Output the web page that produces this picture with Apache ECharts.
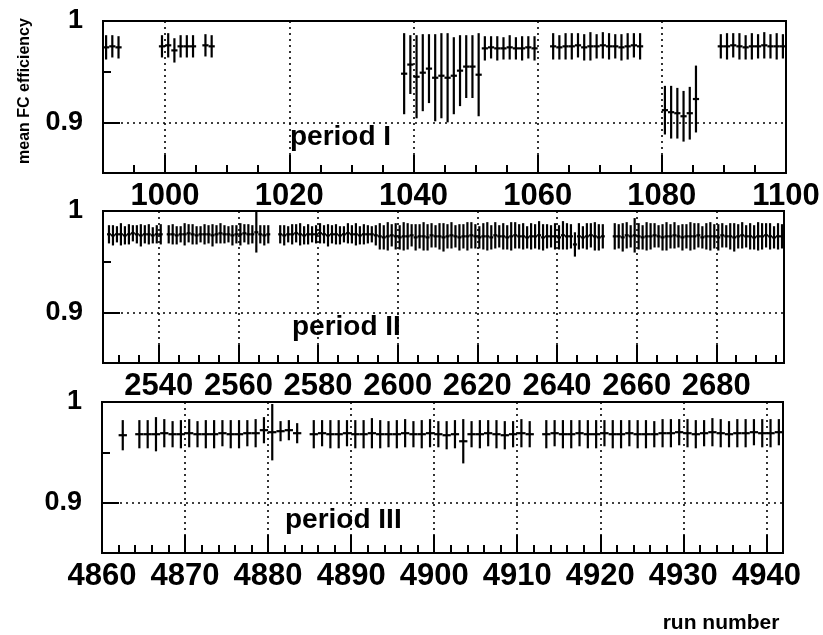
<!DOCTYPE html>
<html>
<head>
<meta charset="utf-8">
<script src="https://cdn.jsdelivr.net/npm/echarts@6/dist/echarts.min.js"></script>
<style>
  html, body { margin: 0; padding: 0; background: #fff; }
  #chart { width: 823px; height: 635px; }
</style>
</head>
<body>
<div id="chart"></div>
<script>
// Mean FC efficiency per run, three data-taking periods.
// Runs are listed as consecutive [first, last] spans; efficiencies and
// their errors follow the runs in order.

// ---- period I ----
const runSpansI = [[990, 992], [999, 1004], [1006, 1007], [1038, 1059], [1062, 1076], [1080, 1085], [1089, 1099]];
const effI = [
  0.974, 0.975, 0.974,
  0.975, 0.976, 0.971, 0.975, 0.975, 0.975,
  0.976, 0.975,
  0.948, 0.957, 0.945, 0.949, 0.953, 0.944, 0.946, 0.944, 0.946, 0.951, 0.955, 0.955, 0.947,
  0.973, 0.974, 0.973, 0.973, 0.974, 0.973, 0.973, 0.974, 0.973,
  0.975, 0.974, 0.975, 0.975, 0.976, 0.974, 0.975, 0.975, 0.976, 0.975, 0.975, 0.974, 0.975, 0.976, 0.975,
  0.912, 0.910, 0.909, 0.906, 0.909, 0.923,
  0.975, 0.975, 0.976, 0.975, 0.974, 0.975, 0.975, 0.976, 0.975, 0.975, 0.975
];
const errI = [
  0.012, 0.011, 0.011,
  0.011, 0.012, 0.012, 0.011, 0.011, 0.011,
  0.011, 0.011,
  0.040, 0.029, 0.041, 0.038, 0.034, 0.043, 0.042, 0.044, 0.038, 0.035, 0.031, 0.031, 0.041,
  0.012, 0.011, 0.012, 0.011, 0.012, 0.011, 0.012, 0.011, 0.012,
  0.013, 0.012, 0.013, 0.013, 0.012, 0.013, 0.014, 0.012, 0.013, 0.013, 0.012, 0.013, 0.013, 0.012, 0.013,
  0.024, 0.026, 0.025, 0.025, 0.026, 0.033,
  0.012, 0.013, 0.012, 0.013, 0.012, 0.013, 0.012, 0.013, 0.012, 0.013, 0.012
];

// ---- period II ----
const runSpansII = [[2527, 2540], [2542, 2567], [2570, 2651], [2654, 2696]];
const effII = [
  // 2527-2540
  0.977, 0.976, 0.977, 0.977, 0.976, 0.977, 0.978, 0.977, 0.976, 0.977, 0.977, 0.976, 0.977, 0.977,
  // 2542-2567
  0.977, 0.977, 0.976, 0.977, 0.977, 0.978, 0.977, 0.976, 0.977, 0.977, 0.977, 0.976, 0.977,
  0.978, 0.977, 0.977, 0.976, 0.977, 0.977, 0.978, 0.977, 0.977, 0.979, 0.977, 0.976, 0.977,
  // 2570-2594
  0.977, 0.976, 0.977, 0.977, 0.978, 0.977, 0.976, 0.977, 0.977, 0.977, 0.978, 0.977, 0.976,
  0.977, 0.977, 0.976, 0.977, 0.978, 0.977, 0.977, 0.976, 0.977, 0.977, 0.977, 0.976,
  // 2595-2651
  0.975, 0.974, 0.975, 0.976, 0.975, 0.974, 0.975, 0.975, 0.976, 0.974,
  0.975, 0.975, 0.974, 0.976, 0.975, 0.975, 0.974, 0.975, 0.976, 0.975,
  0.974, 0.975, 0.975, 0.976, 0.975, 0.974, 0.975, 0.975, 0.974, 0.976,
  0.975, 0.975, 0.974, 0.975, 0.976, 0.975, 0.975, 0.974, 0.975, 0.975,
  0.976, 0.974, 0.975, 0.975, 0.975, 0.974, 0.976, 0.975, 0.975, 0.967,
  0.975, 0.974, 0.975, 0.976, 0.975, 0.974, 0.975,
  // 2654-2696
  0.975, 0.975, 0.974, 0.976, 0.975, 0.976, 0.975, 0.974, 0.975, 0.975,
  0.976, 0.975, 0.974, 0.975, 0.975, 0.976, 0.975, 0.974, 0.975, 0.975,
  0.975, 0.976, 0.974, 0.975, 0.975, 0.975, 0.974, 0.976, 0.975, 0.975,
  0.974, 0.975, 0.976, 0.975, 0.975, 0.974, 0.975, 0.975, 0.976, 0.975,
  0.974, 0.975, 0.975
];
const errII = [
  0.009, 0.010, 0.008, 0.011, 0.009, 0.010, 0.008, 0.009, 0.011, 0.009, 0.010, 0.008, 0.009, 0.010,
  0.009, 0.010, 0.009, 0.008, 0.011, 0.009, 0.010, 0.009, 0.008, 0.010, 0.009, 0.011, 0.009,
  0.010, 0.009, 0.008, 0.010, 0.009, 0.011, 0.009, 0.010, 0.009, 0.020, 0.009, 0.010, 0.009,
  0.009, 0.010, 0.008, 0.010, 0.009, 0.011, 0.009, 0.010, 0.008, 0.009, 0.010, 0.009, 0.011,
  0.009, 0.010, 0.009, 0.008, 0.010, 0.009, 0.011, 0.009, 0.010, 0.009, 0.008, 0.010,
  0.013, 0.012, 0.014, 0.011, 0.013, 0.012, 0.014, 0.013, 0.011, 0.013,
  0.012, 0.014, 0.013, 0.012, 0.011, 0.013, 0.014, 0.012, 0.013, 0.011,
  0.013, 0.012, 0.014, 0.013, 0.012, 0.011, 0.013, 0.014, 0.012, 0.013,
  0.011, 0.013, 0.012, 0.014, 0.013, 0.012, 0.013, 0.011, 0.013, 0.012,
  0.014, 0.013, 0.012, 0.011, 0.013, 0.012, 0.014, 0.013, 0.012, 0.012,
  0.013, 0.011, 0.013, 0.012, 0.014, 0.013, 0.012,
  0.013, 0.012, 0.014, 0.013, 0.011, 0.017, 0.013, 0.012, 0.014, 0.013,
  0.012, 0.011, 0.013, 0.014, 0.012, 0.013, 0.011, 0.013, 0.012, 0.014,
  0.013, 0.012, 0.011, 0.013, 0.014, 0.012, 0.013, 0.012, 0.011, 0.013,
  0.014, 0.012, 0.013, 0.011, 0.013, 0.012, 0.014, 0.013, 0.012, 0.013,
  0.011, 0.013, 0.012
];

// ---- period III ----
const runSpansIII = [[4862, 4862], [4864, 4883], [4885, 4911], [4913, 4941]];
const effIII = [
  0.967,
  0.968, 0.968, 0.968, 0.969, 0.968, 0.968, 0.969, 0.968, 0.968, 0.968, 0.969, 0.968, 0.968, 0.969, 0.969, 0.972,
  0.970, 0.971, 0.972, 0.969,
  0.968, 0.969, 0.968, 0.968, 0.969, 0.968, 0.968, 0.969, 0.968, 0.968, 0.968, 0.969, 0.968, 0.968, 0.969, 0.968, 0.967, 0.968,
  0.961,
  0.968, 0.968, 0.969, 0.968, 0.967, 0.968, 0.969, 0.968,
  0.968, 0.969, 0.968, 0.968, 0.969, 0.968, 0.968, 0.969, 0.968, 0.968, 0.969, 0.968, 0.968, 0.968, 0.969,
  0.969, 0.970, 0.969, 0.968, 0.969, 0.970, 0.969, 0.968, 0.969, 0.969, 0.970, 0.969, 0.969, 0.970
];
const errIII = [
  0.015,
  0.014, 0.014, 0.017, 0.014, 0.013, 0.014, 0.014, 0.013, 0.014, 0.014, 0.013, 0.014, 0.014, 0.013, 0.014, 0.013,
  0.028, 0.010, 0.010, 0.010,
  0.014, 0.013, 0.014, 0.014, 0.013, 0.014, 0.014, 0.015, 0.014, 0.013, 0.014, 0.014, 0.013, 0.014, 0.014, 0.013, 0.014, 0.014,
  0.022,
  0.013, 0.014, 0.013, 0.014, 0.014, 0.013, 0.014, 0.013,
  0.014, 0.013, 0.014, 0.014, 0.013, 0.014, 0.014, 0.013, 0.014, 0.014, 0.013, 0.014, 0.014, 0.013, 0.014,
  0.014, 0.013, 0.014, 0.014, 0.013, 0.014, 0.014, 0.013, 0.014, 0.014, 0.013, 0.014, 0.014, 0.013
];

const yTickLabels = { 1: '1', 0.9: '0.9' };

// ---------------------------------------------------------------------------
const FONT = '"Liberation Sans", Arial, Helvetica, sans-serif';
const INK = '#000';

function expandRuns(spans) {
  const runs = [];
  spans.forEach(([a, b]) => { for (let r = a; r <= b; r++) runs.push(r); });
  return runs;
}

// each point sits in the middle of its run bin
function points(spans, eff, err) {
  const runs = expandRuns(spans);
  return runs.map((r, i) => [r + 0.5, eff[i], err[i]]);
}

function xAxis(gridIndex, min, max, step, minorSplit, hideMin, hideMax) {
  return {
    type: 'value', gridIndex, min, max,
    minInterval: step, maxInterval: step, splitNumber: 5,
    axisLine: { show: true, onZero: false, lineStyle: { color: INK, width: 2 } },
    axisTick: { show: true, inside: true, length: 18, lineStyle: { color: INK, width: 2 } },
    minorTick: { show: true, splitNumber: minorSplit, length: 8, lineStyle: { color: INK, width: 2 } },
    axisLabel: {
      show: true, color: INK, fontFamily: FONT, fontWeight: 'bold', fontSize: 31, margin: 8,
      showMinLabel: !hideMin, showMaxLabel: !hideMax,
      formatter: v => String(Math.round(v))
    },
    splitLine: { show: true, lineStyle: { color: INK, type: [2, 4], width: 1.6 } },
    minorSplitLine: { show: false }
  };
}

function yAxis(gridIndex) {
  return {
    type: 'value', gridIndex, min: 0.85, max: 1.0,
    minInterval: 0.1, maxInterval: 0.1,
    axisLine: { show: true, onZero: false, lineStyle: { color: INK, width: 2 } },
    axisTick: { show: true, inside: true, length: 17, lineStyle: { color: INK, width: 2 } },
    minorTick: { show: true, splitNumber: 2, length: 8, lineStyle: { color: INK, width: 2 } },
    axisLabel: {
      show: true, color: INK, fontFamily: FONT, fontWeight: 'bold', fontSize: 27, margin: 20,
      showMinLabel: false,
      formatter: v => yTickLabels[+v.toFixed(2)] || ''
    },
    splitLine: { show: true, lineStyle: { color: INK, type: [2, 4], width: 1.6 } }
  };
}

function errorBars(index, data) {
  return {
    type: 'custom', xAxisIndex: index, yAxisIndex: index, clip: true,
    encode: { x: 0, y: 1 },
    data,
    renderItem(params, api) {
      const x = api.value(0), v = api.value(1), e = api.value(2);
      const hi = api.coord([x, v + e]);
      const lo = api.coord([x, v - e]);
      const l = api.coord([x - 0.5, v]);
      const r = api.coord([x + 0.5, v]);
      const style = { stroke: INK, lineWidth: 2.2 };
      return {
        type: 'group',
        children: [
          { type: 'line', shape: { x1: hi[0], y1: hi[1], x2: lo[0], y2: lo[1] }, style },
          { type: 'line', shape: { x1: l[0], y1: l[1], x2: r[0], y2: r[1] }, style }
        ]
      };
    }
  };
}

const gridStyle = { show: true, borderColor: INK, borderWidth: 2, backgroundColor: 'transparent' };

const option = {
  animation: false,
  backgroundColor: '#fff',
  grid: [
    Object.assign({ left: 103, right: 37, top: 21, height: 152 }, gridStyle),
    Object.assign({ left: 103, right: 39, top: 211, height: 152 }, gridStyle),
    Object.assign({ left: 102, right: 40, top: 402, height: 151 }, gridStyle)
  ],
  xAxis: [
    xAxis(0, 990, 1100, 20, 4, true, false),
    xAxis(1, 2526, 2697, 20, 4, true, true),
    xAxis(2, 4860, 4942, 10, 5, false, true)
  ],
  yAxis: [yAxis(0), yAxis(1), yAxis(2)],
  series: [
    errorBars(0, points(runSpansI, effI, errI)),
    errorBars(1, points(runSpansII, effII, errII)),
    errorBars(2, points(runSpansIII, effIII, errIII))
  ],
  graphic: [
    { type: 'text', x: 290, y: 137, style: { text: 'period I', font: `bold 28px ${FONT}`, fill: INK, textVerticalAlign: 'middle' } },
    { type: 'text', x: 292, y: 327, style: { text: 'period II', font: `bold 28px ${FONT}`, fill: INK, textVerticalAlign: 'middle' } },
    { type: 'text', x: 285, y: 520, style: { text: 'period III', font: `bold 28px ${FONT}`, fill: INK, textVerticalAlign: 'middle' } },
    { type: 'text', x: 25, y: 91, rotation: Math.PI / 2,
      style: { text: 'mean FC efficiency', font: `bold 16px ${FONT}`, fill: INK, textAlign: 'center', textVerticalAlign: 'middle' } },
    { type: 'text', x: 721, y: 623,
      style: { text: 'run number', font: `bold 21px ${FONT}`, fill: INK, textAlign: 'center', textVerticalAlign: 'middle' } }
  ]
};

echarts.init(document.getElementById('chart'), null, { renderer: 'canvas' }).setOption(option);
</script>
</body>
</html>
